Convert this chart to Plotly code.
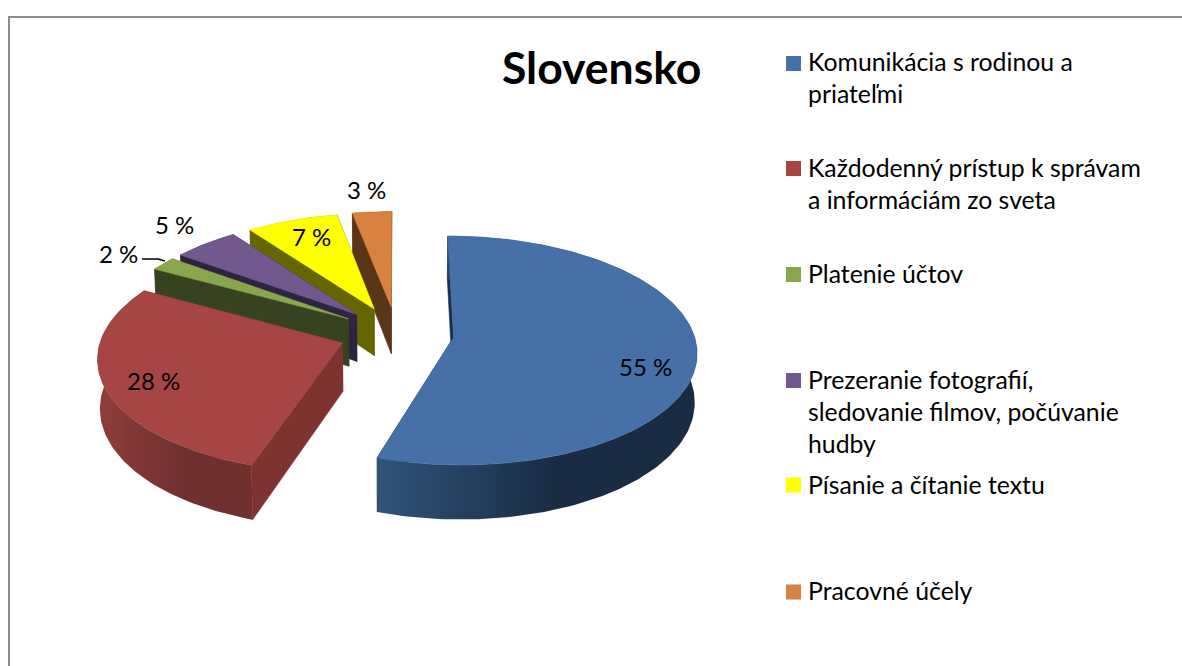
import numpy as np
import plotly.graph_objects as go

# Data
title = "Slovensko"
categories = [
    "Komunikácia s rodinou a<br>priateľmi",
    "Každodenný prístup k správam<br>a informáciám zo sveta",
    "Platenie účtov",
    "Prezeranie fotografií,<br>sledovanie filmov, počúvanie<br>hudby",
    "Písanie a čítanie textu",
    "Pracovné účely",
]
values = [55, 28, 2, 5, 7, 3]

# Style
top_colors = ["#4570a8", "#a64543", "#89a64e", "#71598f", "#ffff00", "#d9813e"]
wall_colors = ["#1b2e48", "#7f3331", "#374220", "#2e2340", "#666600", "#5a3517"]
rim_left = ["#30547a", "#8f3d3a", "#374220", "#2e2340", "#666600", "#5a3517"]
rim_right = ["#1a2c44", "#703030", "#374220", "#2e2340", "#666600", "#5a3517"]
FONT = "Lato"

# 3D pie projection parameters (pixels on the helper axes)
CX, CY, A, B, K, DEPTH, EXPLODE, BOTTOM = 396.5, 333, 240, 112, 0.115, 48, 0.24, 0.992


def project(X, Y):
    s = 1 / (1 + K * Y)
    return CX + A * X * s, CY - B * Y * s, DEPTH * s


def lower(x):
    # the lower edge of the slab is further from the eye, so it sits closer to the axis
    return CX + (x - CX) * BOTTOM


fig = go.Figure()
total = sum(values)
angles = np.concatenate([[0], np.cumsum(values)]) / total * 2 * np.pi

wedges = []
for i, v in enumerate(values):
    a0, a1 = angles[i], angles[i + 1]
    mid = (a0 + a1) / 2
    ox, oy = EXPLODE * np.sin(mid), EXPLODE * np.cos(mid)
    th = np.linspace(a0, a1, max(8, int(v * 3)))
    rx, ry, rd = project(ox + np.sin(th), oy + np.cos(th))
    ax, ay, ad = project(np.array([ox]), np.array([oy]))
    wedges.append((rx, ry, rd, ax[0], ay[0], ad[0]))


def poly(x, y, color):
    fig.add_trace(go.Scatter(x=list(x) + [x[0]], y=list(y) + [y[0]], mode="lines",
                             line=dict(width=0.6, color=color), fill="toself", fillcolor=color,
                             hoverinfo="skip", showlegend=False))


# painter's order: back wedges first, the big front wedges last
for i in [5, 4, 3, 2, 1, 0]:
    rx, ry, rd, ax, ay, ad = wedges[i]
    # side walls
    for j in (0, -1):
        poly([ax, rx[j], lower(rx[j]), lower(ax)], [ay, ry[j], ry[j] + rd[j], ay + ad], wall_colors[i])
    # rim wall with gradient
    xs = np.concatenate([rx, lower(rx)[::-1]])
    ys = np.concatenate([ry, (ry + rd)[::-1]])
    fig.add_trace(go.Scatter(
        x=list(xs) + [xs[0]], y=list(ys) + [ys[0]], mode="lines", line=dict(width=0),
        fill="toself",
        fillgradient=dict(type="horizontal",
                          colorscale=[[0, rim_left[i]], [0.55, rim_right[i]], [1, rim_right[i]]]),
        hoverinfo="skip", showlegend=False))
    # top face
    poly(np.concatenate([[ax], rx]), np.concatenate([[ay], ry]), top_colors[i])

# legend swatches
legend_y = [63.5, 168.5, 274.5, 380.5, 485, 592]
legend_text_y = [62, 168, 274, 380, 485, 591]
fig.add_trace(go.Scatter(x=[793.5] * 6, y=legend_y, mode="markers",
                         marker=dict(symbol="square", size=15, color=top_colors, line=dict(width=0)),
                         hoverinfo="skip", showlegend=False))

# leader line for the 2 % label
fig.add_trace(go.Scatter(x=[142, 158, 165], y=[259, 259, 261], mode="lines",
                         line=dict(color="black", width=1.5), hoverinfo="skip", showlegend=False))

annotations = [dict(x=601, y=66.5, text=f"<b>{title}</b>", showarrow=False,
                    font=dict(family=FONT, size=44.5, color="black"))]
for name, ly in zip(categories, legend_text_y):
    annotations.append(dict(x=806, y=ly - 17, text=name, showarrow=False, xanchor="left",
                            yanchor="top", align="left",
                            font=dict(family=FONT, size=24.8, color="black")))
label_pos = [(645, 366), (153, 380), (118, 253), (174, 224), (311, 236), (366, 189)]
for v, (lx, ly) in zip(values, label_pos):
    annotations.append(dict(x=lx, y=ly, text=f"{v} %", showarrow=False,
                            font=dict(family=FONT, size=24, color="black")))

frame_color = "#8c8c8c"
fig.update_layout(
    width=1182, height=666, margin=dict(l=0, r=0, t=0, b=0),
    paper_bgcolor="white", plot_bgcolor="white", showlegend=False,
    xaxis=dict(range=[0, 1182], visible=False, fixedrange=True),
    yaxis=dict(range=[666, 0], visible=False, fixedrange=True),
    annotations=annotations,
    shapes=[
        dict(type="line", x0=9, x1=9, y0=16, y1=666, line=dict(color=frame_color, width=2)),
        dict(type="line", x0=8, x1=1182, y0=17, y1=17, line=dict(color=frame_color, width=2)),
    ],
)
fig.write_html("out.html", config={"displayModeBar": False},
               post_script="document.body.style.margin='0';document.body.style.overflow='hidden';")
